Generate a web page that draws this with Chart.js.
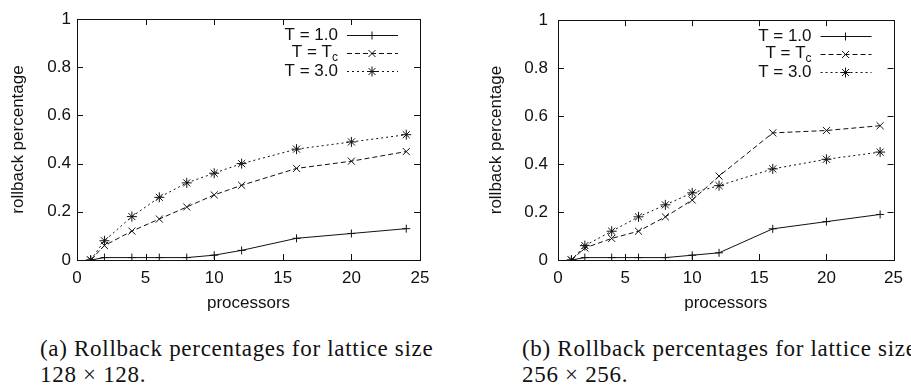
<!DOCTYPE html>
<html><head><meta charset="utf-8">
<script src="https://cdn.jsdelivr.net/npm/chart.js@4/dist/chart.umd.min.js"></script>
<style>
html,body{margin:0;padding:0;background:#fff;width:911px;height:392px;overflow:hidden;}
.wrap{position:absolute;top:0;}
.cap{position:absolute;font-family:"Liberation Serif","Times New Roman",serif;font-size:23px;letter-spacing:0.7px;color:#111;white-space:nowrap;line-height:26px;}
</style></head><body>
<div class="wrap" style="left:0;width:440px;height:320px"><canvas id="ca" width="440" height="320"></canvas></div>
<div class="wrap" style="left:450px;width:461px;height:320px"><canvas id="cb" width="461" height="320"></canvas></div>
<div class="cap" style="left:40px;top:336px">(a) Rollback percentages for lattice size<br>128 × 128.</div>
<div class="cap" style="left:522px;top:336px">(b) Rollback percentages for lattice size<br>256 × 256.</div>
<script>
// ---- data ----
const processors = [1, 2, 4, 6, 8, 10, 12, 16, 20, 24];
const seriesNames = ["T = 1.0", "T = Tc", "T = 3.0"];
// (a) lattice 128 x 128
const a_T1 = [0, 0.01, 0.01, 0.01, 0.01, 0.02, 0.04, 0.09, 0.11, 0.13];
const a_Tc = [0, 0.06, 0.12, 0.17, 0.22, 0.27, 0.31, 0.38, 0.41, 0.45];
const a_T3 = [0, 0.08, 0.18, 0.26, 0.32, 0.36, 0.40, 0.46, 0.49, 0.52];
// (b) lattice 256 x 256
const b_T1 = [0, 0.01, 0.01, 0.01, 0.01, 0.02, 0.03, 0.13, 0.16, 0.19];
const b_Tc = [0, 0.05, 0.09, 0.12, 0.18, 0.25, 0.35, 0.53, 0.54, 0.56];
const b_T3 = [0, 0.06, 0.12, 0.18, 0.23, 0.28, 0.31, 0.38, 0.42, 0.45];
const xTicks = [0, 5, 10, 15, 20, 25];
const yTicks = [0, 0.2, 0.4, 0.6, 0.8, 1];
const xTitle = "processors";
const yTitle = "rollback percentage";

const INK = '#111';
const FONT = '"Liberation Sans", Arial, sans-serif';
const FS = 17;
const styles = [
  {pointStyle: 'cross', radius: 4, dash: []},
  {pointStyle: 'crossRot', radius: 5, dash: [5, 3]},
  {pointStyle: 'star', radius: 5, dash: [2, 3]}
];

const frame = {
  id: 'frame',
  afterDatasetsDraw(chart) {
    const ctx = chart.ctx, a = chart.chartArea;
    const xs = chart.scales.x, ys = chart.scales.y;
    ctx.save();
    ctx.strokeStyle = INK; ctx.lineWidth = 1; ctx.setLineDash([]);
    ctx.strokeRect(Math.round(a.left) + 0.5, Math.round(a.top) + 0.5,
                   Math.round(a.right - a.left), Math.round(a.bottom - a.top));
    const L = 6;
    ctx.beginPath();
    xs.ticks.forEach(t => {
      const px = Math.round(xs.getPixelForValue(t.value)) + 0.5;
      if (px <= a.left + 1 || px >= a.right - 1) return;
      ctx.moveTo(px, a.bottom); ctx.lineTo(px, a.bottom - L);
      ctx.moveTo(px, a.top); ctx.lineTo(px, a.top + L);
    });
    ys.ticks.forEach(t => {
      const py = Math.round(ys.getPixelForValue(t.value)) + 0.5;
      if (py <= a.top + 1 || py >= a.bottom - 1) return;
      ctx.moveTo(a.left, py); ctx.lineTo(a.left + L, py);
      ctx.moveTo(a.right, py); ctx.lineTo(a.right - L, py);
    });
    ctx.stroke();

    // legend (gnuplot style, top right inside)
    const rows = [16, 33.5, 52];
    ctx.font = FS + 'px ' + FONT;
    ctx.fillStyle = INK;
    ctx.textBaseline = 'middle';
    chart.data.datasets.forEach((ds, i) => {
      const y = a.top + rows[i];
      const xr = a.right - 82;
      if (i === 1) {
        ctx.font = '12px ' + FONT;
        const wc = ctx.measureText('c').width;
        ctx.textAlign = 'left';
        ctx.fillText('c', xr - wc, y + 5);
        ctx.font = FS + 'px ' + FONT;
        ctx.textAlign = 'right';
        ctx.fillText('T = T', xr - wc, y);
      } else {
        ctx.textAlign = 'right';
        ctx.fillText(ds.label, xr, y);
      }
      const st = styles[i];
      ctx.beginPath();
      ctx.setLineDash(st.dash);
      ctx.moveTo(a.right - 73, Math.round(y) + 0.5);
      ctx.lineTo(a.right - 22, Math.round(y) + 0.5);
      ctx.stroke();
      ctx.setLineDash([]);
      Chart.helpers.drawPoint(ctx, {pointStyle: st.pointStyle, radius: st.radius, borderWidth: 1, rotation: 0},
                              a.right - 48, Math.round(y) + 0.5);
    });
    ctx.restore();
  }
};

function makeChart(id, series, pad, yWidth, yPad) {
  const datasets = series.map((vals, i) => ({
    label: seriesNames[i],
    data: processors.map((p, k) => ({x: p, y: vals[k]})),
    borderColor: INK,
    backgroundColor: INK,
    borderWidth: 1,
    borderDash: styles[i].dash,
    pointStyle: styles[i].pointStyle,
    pointRadius: styles[i].radius,
    pointBorderWidth: 1,
    pointBorderColor: INK,
    pointBackgroundColor: 'rgba(0,0,0,0)',
    tension: 0,
    fill: false
  }));
  return new Chart(document.getElementById(id), {
    type: 'line',
    data: {datasets},
    options: {
      responsive: false,
      animation: false,
      devicePixelRatio: 1,
      layout: {padding: pad},
      plugins: {legend: {display: false}, tooltip: {enabled: false}},
      scales: {
        x: {
          type: 'linear', min: xTicks[0], max: xTicks[xTicks.length - 1],
          afterBuildTicks: s => { s.ticks = xTicks.map(v => ({value: v})); },
          afterFit: s => { s.height = 60; },
          grid: {display: false, drawTicks: false},
          border: {display: false},
          ticks: {color: INK, font: {family: FONT, size: FS}, padding: 8, maxRotation: 0,
                  callback: v => String(v)},
          title: {display: true, text: xTitle, color: INK, font: {family: FONT, size: FS},
                  padding: {top: 0, bottom: 6}}
        },
        y: {
          type: 'linear', min: yTicks[0], max: yTicks[yTicks.length - 1],
          afterBuildTicks: s => { s.ticks = yTicks.map(v => ({value: v})); },
          afterFit: s => { s.width = yWidth; },
          grid: {display: false, drawTicks: false},
          border: {display: false},
          ticks: {color: INK, font: {family: FONT, size: FS}, padding: yPad,
                  callback: v => String(Math.round(v * 10) / 10)},
          title: {display: true, text: yTitle, color: INK, font: {family: FONT, size: FS},
                  padding: {top: 8, bottom: 0}}
        }
      }
    },
    plugins: [frame]
  });
}

makeChart('ca', [a_T1, a_Tc, a_T3], {left: 0, top: 19, right: 20, bottom: 0}, 77, 6);
makeChart('cb', [b_T1, b_Tc, b_T3], {left: 28, top: 19, right: 9, bottom: 0}, 80, 10);
</script>
</body></html>
